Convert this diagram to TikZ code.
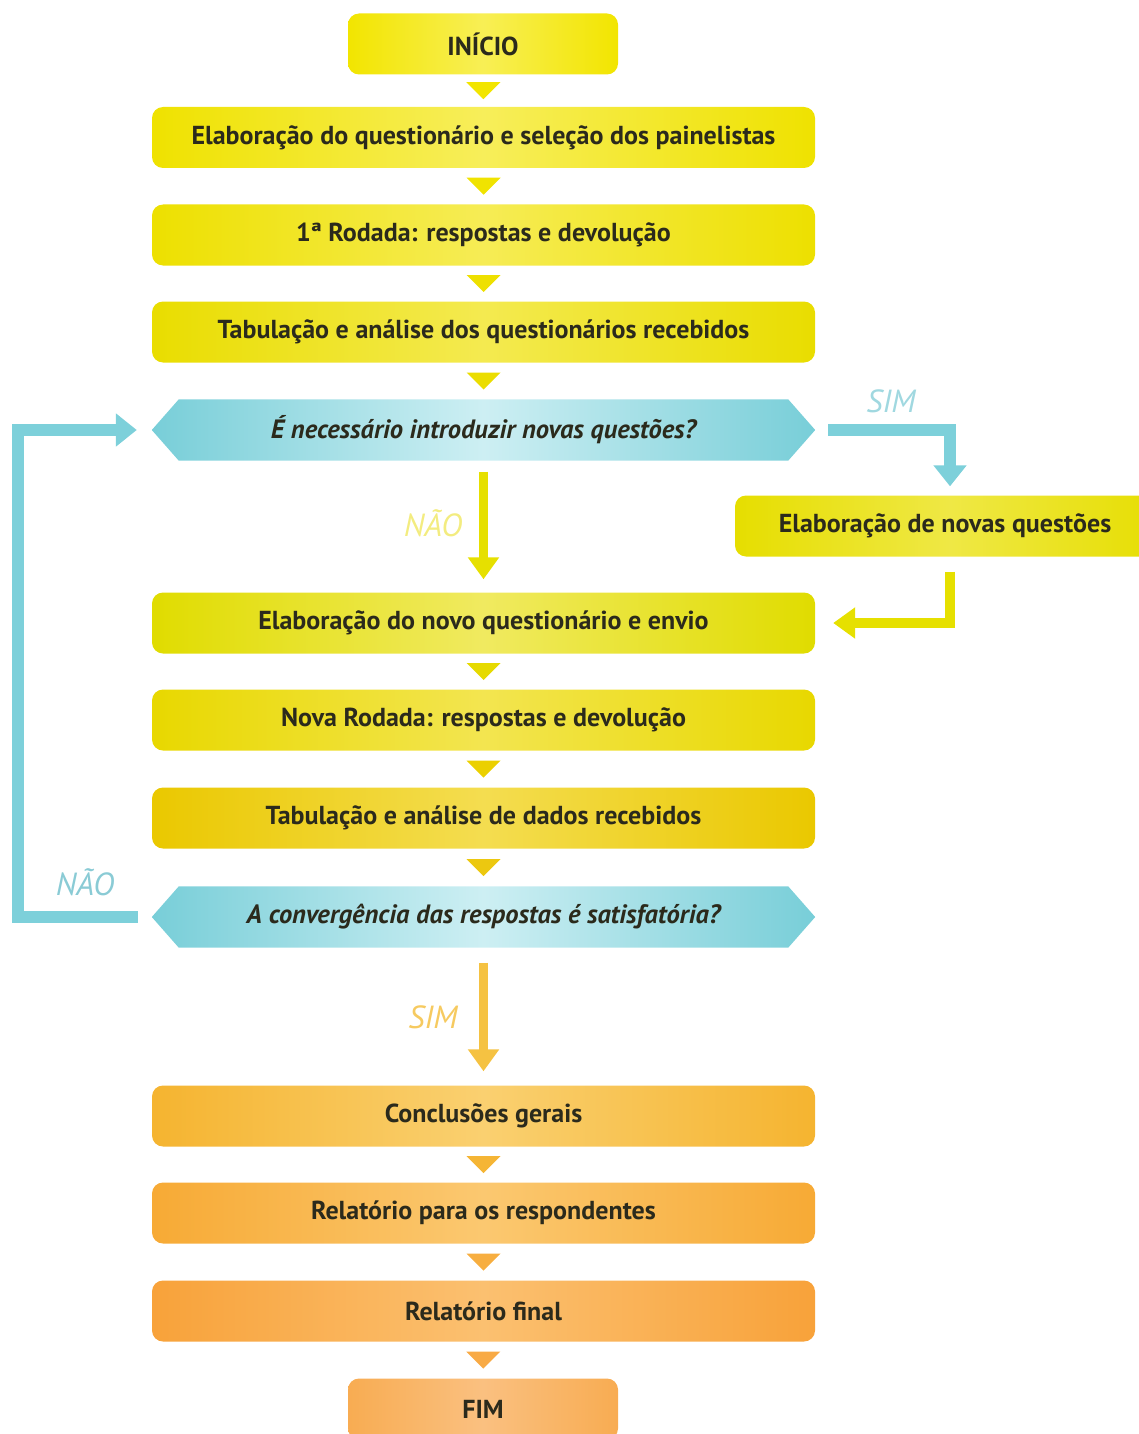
\documentclass[tikz,border=0pt]{standalone}
\usepackage{fontspec}
\setmainfont{PT Sans}
\usetikzlibrary{arrows.meta,calc,backgrounds}
\definecolor{txt}{HTML}{2B2A1C}
\definecolor{bluee}{HTML}{78CED8}
\definecolor{bluem}{HTML}{CDEFF3}
\definecolor{barrow}{HTML}{7DD0DA}
\definecolor{yarrow}{HTML}{E6E000}
\definecolor{oarrow}{HTML}{F5C242}
\newcommand\tridown[3]{\definecolor{trc}{HTML}{#3}\fill[trc] ($(#1.south)!0.5!(#2.north)+(-17,-8.5)$) -- ++(34,0) -- ++(-17,17) -- cycle;}
\begin{document}
\begin{tikzpicture}[x=1pt,y=-1pt,
  box/.style={rounded corners=11pt, minimum height=61pt, inner sep=0pt,
    font=\fontsize{26}{28}\selectfont\bfseries, text=txt},
  mainbox/.style={box, minimum width=663pt},
  smallbox/.style={box, minimum width=270pt},
  shade3/.style n args={2}{/utils/exec={\definecolor{sA}{HTML}{#1}\definecolor{sB}{HTML}{#2}},
    left color=sA, right color=sA, middle color=sB},
  dec/.style={minimum width=663pt, minimum height=61pt, inner sep=0pt,
    font=\fontsize{26.5}{28}\selectfont\bfseries\itshape, text=txt},
  decfill/.style={left color=bluee, right color=bluee, middle color=bluem},
  lbl/.style={font=\fontsize{32}{34}\selectfont\itshape, inner sep=0pt},
  barr/.style={draw=barrow, line width=12pt, -{Triangle[width=32pt,length=21pt]}},
  yarr/.style={draw=yarrow, line width=9pt, -{Triangle[width=30pt,length=22pt]}},
  oarr/.style={draw=oarrow, line width=9pt, -{Triangle[width=30pt,length=22pt]}}
]
\path[use as bounding box, clip] (0,0) rectangle (1139,1434);

% column coordinates
\coordinate (lx) at (18,0);
\coordinate (rx) at (950,0);

\node[smallbox, shade3={F2E500}{F8EF55}] (ini) at (483,44) {INÍCIO};
\node[mainbox, shade3={EFE200}{F7EE5A}] (b1) at (483.5,137.5) {Elaboração do questionário e seleção dos painelistas};
\node[mainbox, shade3={EDE000}{F6EC55}] (b2) at (483.5,235) {1ª Rodada: respostas e devolução};
\node[mainbox, shade3={E9DD00}{F4EA50}] (b3) at (483.5,332) {Tabulação e análise dos questionários recebidos};
\node[dec] (d1) at (483.5,430) {É necessário introduzir novas questões?};
\node[box, minimum width=430pt, shade3={E6DE00}{EFE845}] (nov) at (950,526) {\hspace*{-10pt}Elaboração de novas questões};
\node[mainbox, shade3={E0DC00}{F0EA60}] (b4) at (483.5,623) {Elaboração do novo questionário e envio};
\node[mainbox, shade3={E8D800}{F3E550}] (b5) at (483.5,720) {Nova Rodada: respostas e devolução};
\node[mainbox, shade3={EAC800}{F4DD50}] (b6) at (483.5,818) {Tabulação e análise de dados recebidos};
\node[dec] (d2) at (483.5,917) {A convergência das respostas é satisfatória?};
\node[mainbox, shade3={F5B430}{FAD070}] (c1) at (483.5,1116) {Conclusões gerais};
\node[mainbox, shade3={F7AA35}{FBC870}] (c2) at (483.5,1213) {Relatório para os respondentes};
\node[mainbox, shade3={F8A23A}{FBC070}] (c3) at (483.5,1311) {Relatório final};
\node[smallbox, shade3={F8AC52}{FAC080}] (fim) at (483,1409) {FIM};

\begin{pgfonlayer}{background}
\foreach \d in {d1,d2}{
  \path[decfill] (\d.west) -- ($(\d.north west)+(27,0)$) -- ($(\d.north east)+(-27,0)$)
    -- (\d.east) -- ($(\d.south east)+(-27,0)$) -- ($(\d.south west)+(27,0)$) -- cycle;
}
\end{pgfonlayer}

% small triangle connectors
\tridown{ini}{b1}{F2E500}
\tridown{b1}{b2}{F0E300}
\tridown{b2}{b3}{EEE000}
\tridown{b3}{d1}{EBDD00}
\tridown{b4}{b5}{E6DA00}
\tridown{b5}{b6}{EBD000}
\tridown{b6}{d2}{ECC810}
\tridown{c1}{c2}{F5B535}
\tridown{c2}{c3}{F7AE40}
\tridown{c3}{fim}{F8AA45}

% decision connectors
\draw[barr, shorten <=13pt, shorten >=9pt] (d1.east) -- (d1.east -| rx) -- (nov.north -| rx);
\draw[yarr, line width=10pt, shorten <=15pt, shorten >=18pt] (nov.south -| rx) -- (b4.east -| rx) -- (b4.east);
\draw[yarr, shorten <=11pt, shorten >=13pt] (d1.south) -- (b4.north);
\draw[barr, shorten <=14pt, shorten >=15pt] (d2.west) -- (d2.west -| lx) -- (d1.west -| lx) -- (d1.west);
\draw[oarr, shorten <=15pt, shorten >=14pt] (d2.south) -- (c1.north);

% labels
\node[lbl, text={rgb,255:red,160;green,216;blue,224}] (lsim1) at (891,401) {SIM};
\node[lbl, text={rgb,255:red,243;green,236;blue,128}] (lnao1) at (433,523) {NÃO};
\node[lbl, text={rgb,255:red,138;green,203;blue,213}] (lnao2) at (85,882) {NÃO};
\node[lbl, text={rgb,255:red,246;green,202;blue,96}] (lsim2) at (433,1017) {SIM};
\end{tikzpicture}
\end{document}
